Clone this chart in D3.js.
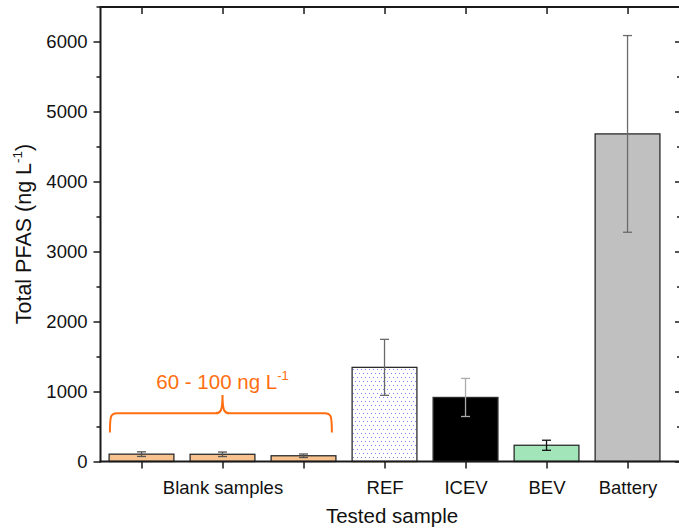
<!DOCTYPE html>
<html><head><meta charset="utf-8">
<script src="https://cdn.jsdelivr.net/npm/d3@7"></script>
<style>
html,body{margin:0;padding:0;background:#fff;}
svg{display:block;font-family:"Liberation Sans",Arial,Helvetica,sans-serif;}
</style></head>
<body><svg id="c" width="679" height="528"></svg>
<script>
// ---- data ----
const categories = ["Blank 1", "Blank 2", "Blank 3", "REF", "ICEV", "BEV", "Battery"];
const tickLabels = ["", "Blank samples", "", "REF", "ICEV", "BEV", "Battery"];
const values = [105, 103, 82, 1345, 915, 232, 4680];
const errors = [33, 32, 25, 400, 272, 72, 1405];
const yMajorTicks = [0, 1000, 2000, 3000, 4000, 5000, 6000];
const yMinorTicks = [500, 1500, 2500, 3500, 4500, 5500, 6500];
const annotationText = "60 - 100 ng L";
const annotationSup = "-1";

// ---- styles ----
const fills = ["#f8c28e", "#f8c28e", "#f8c28e", "url(#dots)", "#000000", "#a2e5b8", "#c0c0c0"];
const errColors = ["#555555", "#555555", "#555555", "#6a6a6a", "#ababab", "#111111", "#6a6a6a"];
const orange = "#ff6e10";

const svg = d3.select("#c");
const L = 100.5, R = 681, T = 7, B = 461.5;

const defs = svg.append("defs");
const pat = defs.append("pattern").attr("id", "dots").attr("patternUnits", "userSpaceOnUse")
  .attr("width", 8).attr("height", 8);
pat.append("rect").attr("width", 8).attr("height", 8).attr("fill", "#fff");
[[1,1],[5,1],[3,5],[7,5]].forEach(([px,py]) =>
  pat.append("rect").attr("x", px).attr("y", py).attr("width", 1).attr("height", 1).attr("fill", "#7c80ea"));

const x = d3.scaleLinear().domain([0.5, 7.66]).range([101, 681]);
const y = d3.scaleLinear().domain([0, 6500]).range([B, 6.5]);
const barW = x(1.8) - x(1);

// bars
const idx = d3.range(categories.length);
svg.append("g").selectAll("rect").data(idx).join("rect")
  .attr("x", i => x(i + 1) - barW / 2)
  .attr("y", i => y(values[i]))
  .attr("width", barW)
  .attr("height", i => y(0) - y(values[i]))
  .attr("fill", i => fills[i])
  .attr("stroke", "#2b2b2b").attr("stroke-width", 1.3);

// error bars
const eg = svg.append("g").attr("stroke-width", 1.3).attr("fill", "none");
idx.forEach(i => {
  const cx = x(i + 1), hi = y(values[i] + errors[i]), lo = y(values[i] - errors[i]);
  const c = errColors[i];
  eg.append("line").attr("x1", cx).attr("x2", cx).attr("y1", hi).attr("y2", lo).attr("stroke", c);
  eg.append("line").attr("x1", cx - 4.5).attr("x2", cx + 4.5).attr("y1", hi).attr("y2", hi).attr("stroke", c);
  eg.append("line").attr("x1", cx - 4.5).attr("x2", cx + 4.5).attr("y1", lo).attr("y2", lo).attr("stroke", c);
});

// axes
const axisColor = "#1a1a1a";
function styleAxis(g) {
  g.select(".domain").remove();
  g.selectAll(".tick line").attr("stroke", axisColor).attr("stroke-width", 1.5);
  g.selectAll("text").attr("fill", "#111").attr("font-size", "18.5px")
   .attr("font-family", '"Liberation Sans",Arial,Helvetica,sans-serif');
}
// left major
svg.append("g").attr("transform", `translate(${L},0)`)
  .call(d3.axisLeft(y).tickValues(yMajorTicks).tickSize(7).tickPadding(6).tickFormat(d3.format("d")))
  .call(styleAxis);
// left minor
svg.append("g").attr("transform", `translate(${L},0)`)
  .call(d3.axisLeft(y).tickValues(yMinorTicks).tickSize(4).tickFormat(""))
  .call(styleAxis);
// right (inward)
svg.append("g").attr("transform", `translate(${R},0)`)
  .call(d3.axisLeft(y).tickValues(yMajorTicks).tickSize(6).tickFormat(""))
  .call(styleAxis);
svg.append("g").attr("transform", `translate(${R},0)`)
  .call(d3.axisLeft(y).tickValues(yMinorTicks).tickSize(4).tickFormat(""))
  .call(styleAxis);
// bottom
svg.append("g").attr("transform", `translate(0,${B})`)
  .call(d3.axisBottom(x).tickValues(idx.map(i => i + 1)).tickSize(7).tickPadding(12)
    .tickFormat((d, k) => tickLabels[k]))
  .call(styleAxis);
// top (inward)
svg.append("g").attr("transform", `translate(0,${T})`)
  .call(d3.axisBottom(x).tickValues(idx.map(i => i + 1)).tickSize(7).tickFormat(""))
  .call(styleAxis);

// frame lines
const fr = svg.append("g").attr("stroke", axisColor).attr("stroke-width", 2).attr("fill", "none");
fr.append("line").attr("x1", L).attr("x2", L).attr("y1", T).attr("y2", B + 1);
fr.append("line").attr("x1", L - 1).attr("x2", R + 1).attr("y1", T).attr("y2", T);
fr.append("line").attr("x1", L - 1).attr("x2", R + 1).attr("y1", B).attr("y2", B);
fr.append("line").attr("x1", R).attr("x2", R).attr("y1", T).attr("y2", B);

// axis titles
svg.append("text").attr("x", 392).attr("y", 523).attr("text-anchor", "middle")
  .attr("font-size", "20.5px").attr("fill", "#111").text("Tested sample");
const yt = svg.append("text").attr("transform", `translate(31,234) rotate(-90)`)
  .attr("text-anchor", "middle").attr("font-size", "21.5px").attr("fill", "#111");
yt.append("tspan").text("Total PFAS (ng L");
yt.append("tspan").attr("dy", -9).attr("font-size", "13.5px").text("-1");
yt.append("tspan").attr("dy", 9).text(")");

// bracket annotation
const bx0 = x(0.61), bx1 = x(3.35), bm = x(2);
const yb = y(414), yh = y(689), yp = y(950);
const r = 7;
const path = d3.path();
path.moveTo(bx0, yb);
path.bezierCurveTo(bx0, yh + 2, bx0 + 1, yh, bx0 + r, yh);
path.lineTo(bm - r, yh);
path.bezierCurveTo(bm - 2, yh, bm, yh - 2, bm, yp);
path.bezierCurveTo(bm, yh - 2, bm + 2, yh, bm + r, yh);
path.lineTo(bx1 - r, yh);
path.bezierCurveTo(bx1 - 1, yh, bx1, yh + 2, bx1, yb);
svg.append("path").attr("d", path.toString()).attr("fill", "none")
  .attr("stroke", orange).attr("stroke-width", 2);
const at = svg.append("text").attr("x", bm).attr("y", y(1036)).attr("text-anchor", "middle")
  .attr("font-size", "20.5px").attr("fill", orange);
at.append("tspan").text(annotationText);
at.append("tspan").attr("dy", -9).attr("font-size", "13px").text(annotationSup);
</script></body></html>
